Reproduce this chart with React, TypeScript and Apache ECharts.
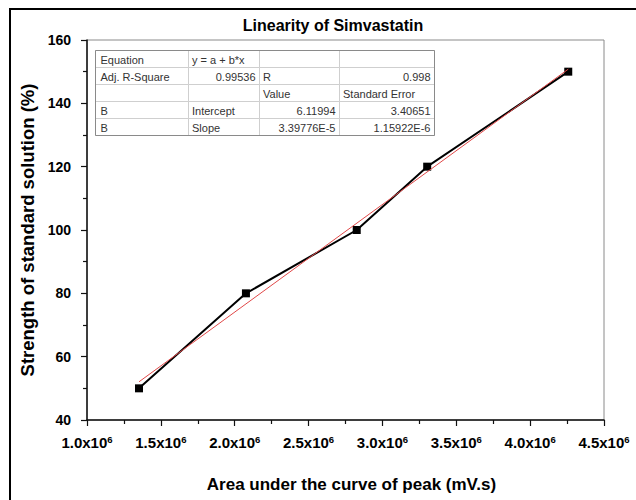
import React, { useEffect, useRef } from 'react';
import * as echarts from 'echarts';

// ---- data ----
const titleText = 'Linearity of Simvastatin';
const xAxisName = 'Area under the curve of peak (mV.s)';
const yAxisName = 'Strength of standard solution (%)';
const xValues = [1.352e6, 2.076e6, 2.826e6, 3.303e6, 4.258e6];
const yValues = [50, 80, 100, 120, 150];
const fitIntercept = 6.11994;
const fitSlope = 3.39776e-5;
const xMin = 1.0e6, xMax = 4.5e6, xStep = 0.5e6;
const yMin = 40, yMax = 160, yStep = 20;
const tableRows = [
  ['Equation', 'y = a + b*x', '', ''],
  ['Adj. R-Square', '0.99536', 'R', '0.998'],
  ['', '', 'Value', 'Standard Error'],
  ['B', 'Intercept', '6.11994', '3.40651'],
  ['B', 'Slope', '3.39776E-5', '1.15922E-6'],
];

const FONT = 'Liberation Sans, Arial, sans-serif';

export default function App() {
  const ref = useRef<HTMLDivElement>(null);
  useEffect(() => {
    document.body.style.margin = '0';
    document.body.style.overflow = 'hidden';
    const chart = echarts.init(ref.current!, null, { renderer: 'svg' });

    const pts = xValues.map((x, i) => [x, yValues[i]]);
    const fx0 = Math.min(...xValues);
    const fx1 = Math.max(...xValues);
    const fitPts = [fx0, fx1].map((x) => [x, fitIntercept + fitSlope * x]);

    // table graphic
    const colX = [95.5, 188.5, 259.5, 339.5, 434.5];
    const top = 50.5;
    const rh = 17;
    const tableEls: any[] = [];
    tableRows.forEach((row, r) => {
      row.forEach((cell, c) => {
        const x0 = colX[c];
        const w = colX[c + 1] - colX[c];
        const y0 = top + r * rh;
        tableEls.push({
          type: 'rect',
          z: 20,
          shape: { x: x0, y: y0, width: w, height: rh },
          style: { fill: '#fff', stroke: '#cfcfcf', lineWidth: 1 },
        });
        if (cell) {
          const numeric = /^[0-9.E\-]+$/.test(cell);
          tableEls.push({
            type: 'text',
            z: 21,
            style: {
              text: cell,
              x: numeric ? x0 + w - 4 : x0 + (c === 0 ? 5 : 3.5),
              y: y0 + rh / 2 + 0.5,
              align: numeric ? 'right' : 'left',
              verticalAlign: 'middle',
              fill: '#333',
              fontSize: 11,
              fontFamily: FONT,
            },
          });
        }
      });
    });
    tableEls.push({
      type: 'rect',
      z: 22,
      shape: { x: colX[0], y: top, width: colX[4] - colX[0], height: rh * tableRows.length },
      style: { fill: 'none', stroke: '#8a8a8a', lineWidth: 1 },
    });

    const option: any = {
      animation: false,
      title: {
        text: titleText,
        left: 328,
        top: 12,
        textAlign: 'center',
        textStyle: { fontFamily: FONT, fontSize: 16, fontWeight: 'bold', color: '#000' },
      },
      grid: {
        left: 87,
        top: 40,
        right: 32,
        bottom: 80,
        show: true,
        borderColor: '#8a8a8a',
        borderWidth: 1,
        backgroundColor: 'transparent',
      },
      xAxis: {
        type: 'value',
        min: xMin,
        max: xMax,
        interval: xStep,
        name: xAxisName,
        nameLocation: 'middle',
        nameGap: 56,
        nameTextStyle: {
          fontFamily: FONT,
          fontSize: 17,
          fontWeight: 'bold',
          color: '#000',
          padding: [0, 0, 0, 12],
        },
        axisLine: { show: true, onZero: false, lineStyle: { color: '#111', width: 1.5 } },
        axisTick: { show: true, inside: false, length: 6, lineStyle: { color: '#111', width: 1.2 } },
        minorTick: { show: true, splitNumber: 2, length: 4, lineStyle: { color: '#111', width: 1.2 } },
        splitLine: { show: false },
        axisLabel: {
          margin: 14,
          formatter: (v: number) => `{a|${(v / 1e6).toFixed(1)}x10}{s|6}`,
          rich: {
            a: { fontFamily: FONT, fontSize: 15, fontWeight: 'bold', color: '#000', lineHeight: 17 },
            s: { fontFamily: FONT, fontSize: 9.5, fontWeight: 'bold', color: '#000', verticalAlign: 'top', lineHeight: 17 },
          },
        },
      },
      yAxis: {
        type: 'value',
        min: yMin,
        max: yMax,
        interval: yStep,
        name: yAxisName,
        nameLocation: 'middle',
        nameGap: 50,
        nameTextStyle: { fontFamily: FONT, fontSize: 18.5, fontWeight: 'bold', color: '#000' },
        axisLine: { show: true, onZero: false, lineStyle: { color: '#111', width: 1.5 } },
        axisTick: { show: true, inside: false, length: 6, lineStyle: { color: '#111', width: 1.2 } },
        minorTick: { show: true, splitNumber: 2, length: 4, lineStyle: { color: '#111', width: 1.2 } },
        splitLine: { show: false },
        axisLabel: { margin: 16, fontFamily: FONT, fontSize: 14, fontWeight: 'bold', color: '#000' },
      },
      series: [
        {
          type: 'line',
          data: pts,
          symbol: 'rect',
          symbolSize: 8,
          lineStyle: { color: '#000', width: 2 },
          itemStyle: { color: '#000' },
          z: 3,
        },
        {
          type: 'line',
          data: fitPts,
          symbol: 'none',
          lineStyle: { color: '#e04848', width: 1 },
          z: 4,
        },
      ],
      graphic: [
        {
          type: 'rect',
          z: 30,
          shape: { x: 10, y: 9, width: 700, height: 600 },
          style: { fill: 'none', stroke: '#000', lineWidth: 2 },
        },
        ...tableEls,
      ],
    };
    chart.setOption(option);
    return () => chart.dispose();
  }, []);
  return <div ref={ref} style={{ width: 636, height: 500 }} />;
}
